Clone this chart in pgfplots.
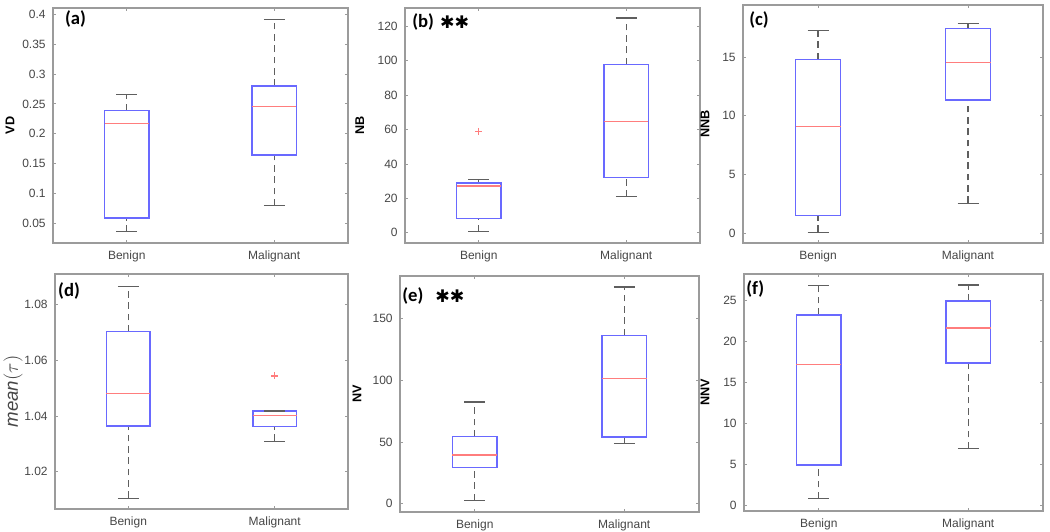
\documentclass[border=0pt]{standalone}
\usepackage{pgfplots}
\pgfplotsset{compat=1.18}
\usepackage{fontspec}
\setmainfont{Liberation Sans}
\newfontfamily\calib{Carlito}
\newfontfamily\dejavu{DejaVu Sans}
\definecolor{boxblue}{RGB}{105,105,255}
\definecolor{medred}{RGB}{255,125,125}
\definecolor{whisk}{RGB}{95,95,95}
\definecolor{axgray}{RGB}{155,155,155}
\definecolor{ticklab}{RGB}{70,70,70}
\tikzset{plab/.style={anchor=west, font=\calib\bfseries\fontsize{14}{15}\selectfont, inner sep=0pt},
  stars/.style={anchor=west, inner sep=0pt, font=\dejavu\fontsize{13}{14}\selectfont}}
\pgfplotsset{
  panel/.style={
    scale only axis, anchor=south west,
    xmin=0.5, xmax=2.5, xtick={1,2}, xticklabels={Benign,Malignant},
    tick align=inside, major tick length=2.5pt,
    axis line style={axgray, line width=0.8pt},
    every tick/.style={axgray, line width=0.6pt},
    tick label style={font=\fontsize{9}{10}\selectfont, text=ticklab},
    xticklabel style={yshift=-2pt},
    yticklabel style={xshift=-2pt},
    /pgf/number format/assume math mode=true,
    /pgf/number format/fixed, /pgf/number format/precision=2,
    scaled y ticks=false,
    ylabel style={anchor=center, font=\bfseries\fontsize{9.5}{10}\selectfont, text=black},
  },
  outl/.style={only marks, mark=+, mark size=2.6pt, mark options={medred, line width=0.9pt}},
  mbox/.style={boxblue, line width=1.1pt, line cap=rect, no marks},
  mmed/.style={medred, line width=0.9pt, no marks},
  mwhisk/.style={whisk, dash pattern=on 5pt off 3.5pt, line width=0.8pt, no marks},
  mcap/.style={whisk, line width=0.8pt, no marks},
}
% box at position 1: lower whisker, lower quartile, median, upper quartile, upper whisker
\newcommand{\boxone}[5]{%
  \addplot[mwhisk] coordinates {(1,#1)(1,#2)};
  \addplot[mwhisk] coordinates {(1,#4)(1,#5)};
  \addplot[mbox] coordinates {(0.85,#2)(1.15,#2)(1.15,#4)(0.85,#4)(0.85,#2)};
  \addplot[mmed] coordinates {(0.85,#3)(1.15,#3)};
  \addplot[mcap] coordinates {(0.93,#1)(1.07,#1)};
  \addplot[mcap] coordinates {(0.93,#5)(1.07,#5)};
}
% box at position 2
\newcommand{\boxtwo}[5]{%
  \addplot[mwhisk] coordinates {(2,#1)(2,#2)};
  \addplot[mwhisk] coordinates {(2,#4)(2,#5)};
  \addplot[mbox] coordinates {(1.85,#2)(2.15,#2)(2.15,#4)(1.85,#4)(1.85,#2)};
  \addplot[mmed] coordinates {(1.85,#3)(2.15,#3)};
  \addplot[mcap] coordinates {(1.93,#1)(2.07,#1)};
  \addplot[mcap] coordinates {(1.93,#5)(2.07,#5)};
}
\begin{document}
\begin{tikzpicture}
\path[use as bounding box] (0,0) rectangle (787.5pt,399pt);
% (a)
\begin{axis}[panel, at={(39.75pt,216.75pt)}, width=221.25pt, height=176.25pt,
  ymin=0.0164, ymax=0.411, ytick={0.05,0.1,0.15,0.2,0.25,0.3,0.35,0.4},
  ylabel={VD}, ylabel style={at={(axis description cs:-0.146,0.5)}}]
\boxone{0.035}{0.058}{0.217}{0.239}{0.265}
\boxtwo{0.079}{0.164}{0.246}{0.280}{0.392}
\node[plab] at (axis description cs:0.04,0.955) {(a)};
\end{axis}
% (b)
\begin{axis}[panel, at={(303.75pt,216.75pt)}, width=221.25pt, height=176.25pt,
  ymin=-6, ymax=130.7, ytick={0,20,40,60,80,100,120},
  ylabel={NB}, ylabel style={at={(axis description cs:-0.153,0.5)}}]
\boxone{0.8}{8.2}{27.2}{28.8}{30.9}
\boxtwo{20.8}{32.2}{64.9}{97.9}{124.9}
\addplot[outl] coordinates {(1,59)};
\node[plab] at (axis description cs:0.024,0.94) {(b)};
\node[stars] at (axis description cs:0.118,0.94) {✱✱};
\end{axis}
% (c)
\begin{axis}[panel, at={(557.25pt,216.75pt)}, width=225pt, height=178.5pt,
  ymin=-0.85, ymax=19.46, ytick={0,5,10,15},
  ylabel={NNB}, ylabel style={at={(axis description cs:-0.127,0.5)}}]
\boxone{0.085}{1.5}{9.06}{14.83}{17.27}
\boxtwo{2.56}{11.36}{14.55}{17.44}{17.9}
\node[plab] at (axis description cs:0.02,0.937) {(c)};
\end{axis}
% (d)
\begin{axis}[panel, at={(41.25pt,17.25pt)}, width=219.75pt, height=176.25pt,
  ymin=1.0066, ymax=1.091, ytick={1.02,1.04,1.06,1.08},
  ylabel={$\mathit{mean}(\tau)$}, ylabel style={at={(axis description cs:-0.143,0.5)}, font=\fontsize{14}{15}\selectfont, text=ticklab}]
\boxone{1.0105}{1.0364}{1.048}{1.0703}{1.0865}
\boxtwo{1.031}{1.0362}{1.0401}{1.0418}{1.0418}
\addplot[outl] coordinates {(2,1.0544)};
\node[plab] at (axis description cs:0.01,0.928) {(d)};
\end{axis}
% (e)
\begin{axis}[panel, at={(300pt,15pt)}, width=224.25pt, height=177pt,
  ymin=-6.8, ymax=184.6, ytick={0,50,100,150},
  ylabel={NV}, ylabel style={at={(axis description cs:-0.144,0.5)}}]
\boxone{2.7}{29.2}{39.5}{54.3}{82.4}
\boxtwo{48.6}{54.05}{101.35}{136.5}{175.7}
\node[plab] at (axis description cs:0.007,0.915) {(e)};
\node[stars] at (axis description cs:0.117,0.915) {✱✱};
\end{axis}
% (f)
\begin{axis}[panel, at={(558pt,15.75pt)}, width=224.25pt, height=177.75pt,
  ymin=-0.69, ymax=28.17, ytick={0,5,10,15,20,25},
  ylabel={NNV}, ylabel style={at={(axis description cs:-0.13,0.5)}}]
\boxone{0.81}{4.92}{17.11}{23.2}{26.75}
\boxtwo{6.9}{17.36}{21.59}{24.88}{26.83}
\node[plab] at (axis description cs:0.007,0.937) {(f)};
\end{axis}
\end{tikzpicture}
\end{document}
